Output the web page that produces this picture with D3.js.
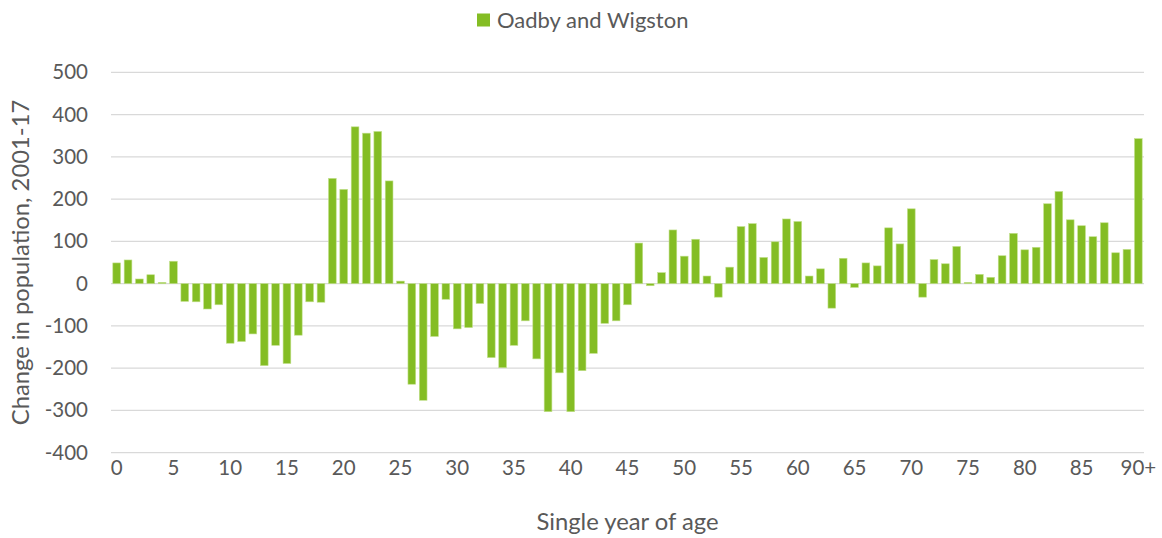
<!DOCTYPE html>
<html>
<head>
<meta charset="utf-8">
<script src="https://cdn.jsdelivr.net/npm/d3@7"></script>
<style>
  html, body { margin: 0; padding: 0; background: #fff; }
  text { font-family: Lato, "Open Sans", sans-serif; fill: #595959; }
</style>
</head>
<body>
<svg id="chart" width="1162" height="538"></svg>
<script>
const ages = d3.range(0, 90).map(String).concat(["90+"]);
const values = [
  49, 56, 11, 21, 3, 53, -42, -43, -60, -50,
  -141, -137, -119, -194, -146, -189, -122, -43, -44, 249,
  223, 371, 356, 360, 243, 6, -238, -276, -125, -37,
  -107, -104, -47, -175, -199, -146, -88, -178, -303, -211,
  -303, -206, -165, -94, -88, -50, 96, -5, 26, 127,
  65, 105, 18, -32, 39, 135, 142, 62, 99, 153,
  147, 18, 35, -58, 60, -9, 49, 42, 132, 94,
  177, -32, 57, 47, 88, 3, 22, 15, 66, 119,
  80, 86, 189, 218, 151, 137, 111, 144, 73, 81,
  343
];
const yTicks = [-400, -300, -200, -100, 0, 100, 200, 300, 400, 500];
const xTickLabels = ["0","5","10","15","20","25","30","35","40","45","50","55","60","65","70","75","80","85","90+"];
const seriesName = "Oadby and Wigston";
const yTitle = "Change in population, 2001-17";
const xTitle = "Single year of age";

(function () {
const svg = d3.select("#chart");
const mLeft = 111, mRight = 1144, mTop = 72.3, mBottom = 452.7;
const green = "#84bd24";
const font = "Lato, 'Open Sans', sans-serif";

const x = d3.scaleBand().domain(ages).range([mLeft, mRight]).paddingInner(0.32).paddingOuter(0.16);
const y = d3.scaleLinear().domain([-400, 500]).range([mBottom, mTop]);

// gridlines
svg.append("g").selectAll("line").data(yTicks).join("line")
  .attr("x1", mLeft).attr("x2", mRight)
  .attr("y1", d => y(d)).attr("y2", d => y(d))
  .attr("stroke", "#d9d9d9").attr("stroke-width", 1.3);

// y axis labels
const yAxis = d3.axisLeft(y).tickValues(yTicks).tickSize(0).tickPadding(0).tickFormat(d => String(d));
svg.append("g").attr("transform", "translate(88,0)").call(yAxis)
  .call(g => g.select(".domain").remove())
  .call(g => g.selectAll("text").attr("font-size", 20.5).attr("font-family", font).attr("fill", "#595959"));

// bars
svg.append("g").selectAll("rect").data(values).join("rect")
  .attr("x", (d, i) => x(ages[i]))
  .attr("width", x.bandwidth())
  .attr("y", d => Math.min(y(d), y(0)))
  .attr("height", d => Math.abs(y(d) - y(0)))
  .attr("fill", green)
  .attr("stroke", "#c2e08c").attr("stroke-width", 0.6);

// x axis labels
const xAxis = d3.axisBottom(x).tickValues(xTickLabels).tickSize(0).tickPadding(0);
svg.append("g").attr("transform", "translate(0,460)").call(xAxis)
  .call(g => g.select(".domain").remove())
  .call(g => g.selectAll("text").attr("font-size", 20.5).attr("font-family", font).attr("fill", "#595959").attr("dy", "0.75em"));

// axis titles
svg.append("text").attr("x", (mLeft + mRight) / 2).attr("y", 530)
  .attr("text-anchor", "middle").attr("font-size", 23.8).text(xTitle);
svg.append("text").attr("transform", `translate(29,${(mTop + mBottom) / 2}) rotate(-90)`)
  .attr("text-anchor", "middle").attr("font-size", 23.8).text(yTitle);

// legend
svg.append("rect").attr("x", 477).attr("y", 13.5).attr("width", 13).attr("height", 13).attr("fill", green);
svg.append("text").attr("x", 497).attr("y", 27.5).attr("font-size", 22).text(seriesName);
})();
</script>
</body>
</html>
